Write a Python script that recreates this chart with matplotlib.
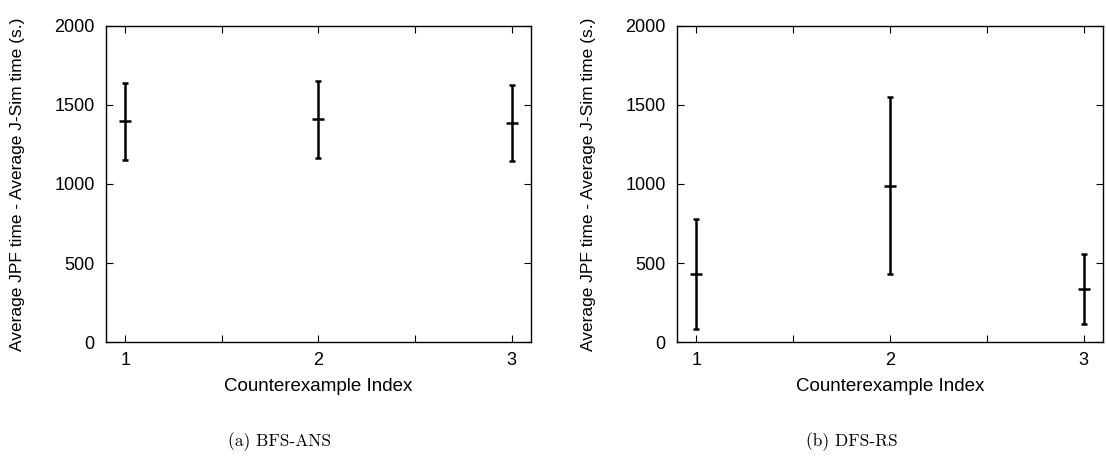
import matplotlib
matplotlib.use('Agg')

import matplotlib.pyplot as plt

# counterexample indices
idx = [1, 2, 3]

# (a) BFS-ANS: mean, low, high
bfs_mean = [1396, 1409, 1383]
bfs_low = [1153, 1166, 1143]
bfs_high = [1639, 1652, 1624]

# (b) DFS-RS: mean, low, high
dfs_mean = [433, 990, 338]
dfs_low = [87, 431, 118]
dfs_high = [781, 1548, 560]

xtick_pos = [1, 1.5, 2, 2.5, 3]
xtick_lab = ['1', '', '2', '', '3']
ytick_pos = [0, 500, 1000, 1500, 2000]

ylab = 'Average JPF time - Average J-Sim time (s.)'
xlab = 'Counterexample Index'

plt.rcParams['font.family'] = ['Liberation Sans', 'DejaVu Sans']

fig = plt.figure(figsize=(11.06, 4.65), dpi=100)
ax_a = fig.add_axes([0.0958, 0.2639, 0.3843, 0.681])
ax_b = fig.add_axes([0.6121, 0.2639, 0.3852, 0.681])


def draw_panel(ax, mean, low, high):
    err = [[m - l for m, l in zip(mean, low)], [h - m for m, h in zip(mean, high)]]
    ax.errorbar(idx, mean, yerr=err, fmt='_', color='black', ecolor='black',
                elinewidth=1.8, capsize=2.5, capthick=1.8,
                markersize=9, markeredgewidth=1.8)
    ax.set_xlim(0.9, 3.1)
    ax.set_ylim(0, 2000)
    ax.set_xticks(xtick_pos)
    ax.set_xticklabels(xtick_lab)
    ax.set_yticks(ytick_pos)
    ax.tick_params(direction='in', top=True, right=True, length=5, width=0.8,
                   labelsize=13)
    ax.tick_params(axis='x', pad=7)
    ax.tick_params(axis='y', pad=8)
    for s in ax.spines.values():
        s.set_linewidth(1.0)
    ax.set_xlabel(xlab, fontsize=13.5)
    ax.xaxis.set_label_coords(0.5, -0.113)
    ax.set_ylabel(ylab, fontsize=12.5)
    ax.yaxis.set_label_coords(-0.19, 0.5)


draw_panel(ax_a, bfs_mean, bfs_low, bfs_high)
draw_panel(ax_b, dfs_mean, dfs_low, dfs_high)

# subfigure captions
fig.text(280 / 1106, 1 - 442 / 465, '(a) BFS-ANS', fontfamily='cmr10',
         fontsize=12.5, ha='center', va='center')
fig.text(852 / 1106, 1 - 442 / 465, '(b) DFS-RS', fontfamily='cmr10',
         fontsize=12.5, ha='center', va='center')

fig.savefig('out.png', dpi=100)
